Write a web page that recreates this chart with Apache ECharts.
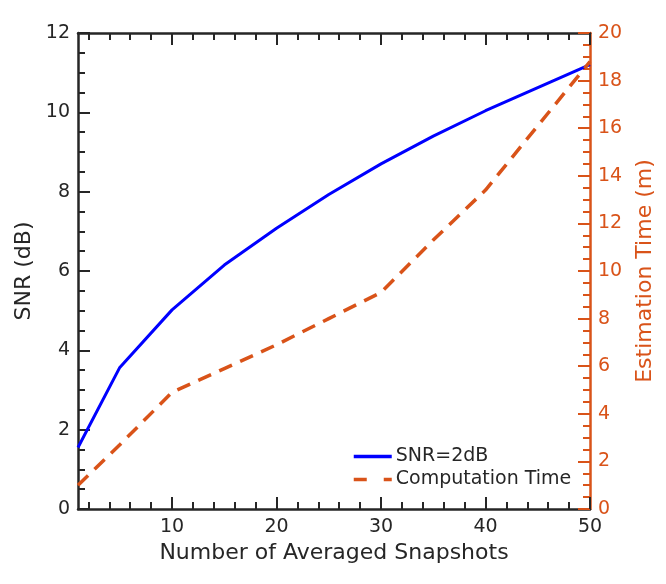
<!DOCTYPE html>
<html>
<head>
<meta charset="utf-8">
<script src="https://cdn.jsdelivr.net/npm/echarts@6/dist/echarts.min.js"></script>
<style>
  html, body { margin: 0; padding: 0; background: #fff; }
  #main { width: 666px; height: 584px; }
</style>
</head>
<body>
<div id="main"></div>
<script>
// snapshots averaged
const snapshots = [1, 5, 10, 15, 20, 25, 30, 35, 40, 45, 50];
// SNR in dB (left axis)
const snrValues = [1.55, 3.57, 5.02, 6.15, 7.08, 7.93, 8.70, 9.40, 10.04, 10.62, 11.20];
// estimation time in minutes (right axis)
const timeValues = [1.0, 2.7, 4.9, 5.9, 6.9, 8.0, 9.1, 11.3, 13.4, 16.1, 18.8];

const xMajor = [10, 20, 30, 40, 50];
const xMinor = [2, 4, 6, 8, 12, 14, 16, 18, 22, 24, 26, 28, 32, 34, 36, 38, 42, 44, 46, 48];

const dark = '#262626';
const orange = '#D95319';
const blue = '#0000FF';
const font = 'DejaVu Sans';
const dash = [14, 9];

function xAxisDef(pos, ticks, len, showLine, showLabel) {
    return {
        type: 'value',
        position: pos,
        min: 1,
        max: 50,
        splitLine: { show: false },
        axisLine: { show: showLine, onZero: false, lineStyle: { color: dark, width: 2.5 } },
        axisTick: { show: true, inside: true, length: len, customValues: ticks,
                    lineStyle: { color: dark, width: 2 } },
        axisLabel: { show: showLabel, customValues: xMajor, margin: 9,
                     color: dark, fontSize: 19, fontFamily: font }
    };
}

const chart = echarts.init(document.getElementById('main'));

let bottomAxis = xAxisDef('bottom', xMajor, 12, true, true);
bottomAxis.name = 'Number of Averaged Snapshots';
bottomAxis.nameLocation = 'middle';
bottomAxis.nameGap = 32;
bottomAxis.nameTextStyle = { color: dark, fontSize: 22, fontFamily: font };

let option = {
    animation: false,
    grid: { left: 78, right: 76, top: 33, bottom: 75, containLabel: false },
    xAxis: [
        bottomAxis,
        xAxisDef('bottom', xMinor, 7, false, false),
        xAxisDef('top', xMajor, 12, true, false),
        xAxisDef('top', xMinor, 7, false, false)
    ],
    yAxis: [
        {
            type: 'value',
            position: 'left',
            min: 0,
            max: 12,
            interval: 2,
            name: 'SNR (dB)',
            nameLocation: 'middle',
            nameRotate: 90,
            nameGap: 35,
            nameTextStyle: { color: dark, fontSize: 22, fontFamily: font },
            splitLine: { show: false },
            axisLine: { show: true, lineStyle: { color: dark, width: 2.5 } },
            axisTick: { inside: true, length: 12, lineStyle: { color: dark, width: 2 } },
            minorTick: { show: true, splitNumber: 4, length: 7, lineStyle: { color: dark, width: 2 } },
            axisLabel: { color: dark, fontSize: 19, fontFamily: font, margin: 8 }
        },
        {
            type: 'value',
            position: 'right',
            min: 0,
            max: 20,
            interval: 2,
            name: 'Estimation Time (m)',
            nameLocation: 'middle',
            nameRotate: 90,
            nameGap: 44,
            nameTextStyle: { color: orange, fontSize: 22, fontFamily: font },
            splitLine: { show: false },
            axisLine: { show: true, lineStyle: { color: orange, width: 2.5 } },
            axisTick: { inside: true, length: 12, lineStyle: { color: orange, width: 2 } },
            minorTick: { show: true, splitNumber: 4, length: 7, lineStyle: { color: orange, width: 2 } },
            axisLabel: { color: orange, fontSize: 19, fontFamily: font, margin: 8 }
        }
    ],
    legend: {
        orient: 'vertical',
        left: 347,
        top: 442,
        padding: 5,
        itemWidth: 38,
        itemHeight: 14,
        itemGap: 4,
        itemStyle: { opacity: 0 },
        textStyle: { color: dark, fontSize: 19, fontFamily: font, padding: [0, 0, 0, -1] },
        data: [
            { name: 'SNR=2dB', lineStyle: { color: blue, width: 3.5 } },
            { name: 'Computation Time', lineStyle: { color: orange, width: 3.5, type: [13, 17] } }
        ]
    },
    series: [
        {
            name: 'SNR=2dB',
            type: 'line',
            xAxisIndex: 0,
            yAxisIndex: 0,
            symbol: 'none',
            color: blue,
            lineStyle: { color: blue, width: 3 },
            data: snapshots.map((x, i) => [x, snrValues[i]])
        },
        {
            name: 'Computation Time',
            type: 'line',
            xAxisIndex: 0,
            yAxisIndex: 1,
            symbol: 'none',
            color: orange,
            lineStyle: { color: orange, width: 3.5, type: dash },
            data: snapshots.map((x, i) => [x, timeValues[i]])
        }
    ]
};

chart.setOption(option);
</script>
</body>
</html>
